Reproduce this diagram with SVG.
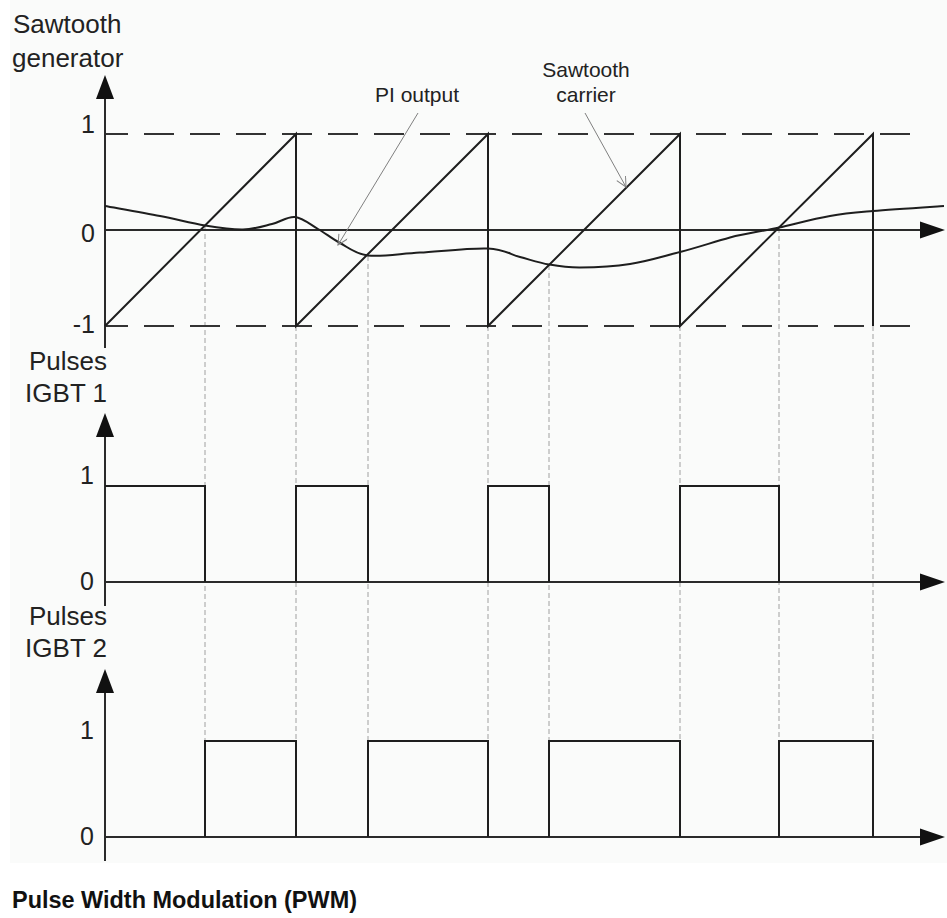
<svg xmlns="http://www.w3.org/2000/svg" width="947" height="918" viewBox="0 0 947 918">
<defs>
<style>
.lbl{font-family:"Liberation Sans",Arial,sans-serif;font-size:26px;fill:#222}
.tick{font-family:"Liberation Sans",Arial,sans-serif;font-size:25px;fill:#222;text-anchor:end}
.ylbl{font-family:"Liberation Sans",Arial,sans-serif;font-size:26px;fill:#222;text-anchor:end}
.ann{font-family:"Liberation Sans",Arial,sans-serif;font-size:21px;fill:#222;text-anchor:middle}
.title{font-family:"Liberation Sans",Arial,sans-serif;font-size:23px;font-weight:bold;fill:#111}
.ax{stroke:#2a2a2a;stroke-width:2;fill:none}
.sig{stroke:#1e1e1e;stroke-width:2;fill:none;stroke-linejoin:miter}
.lvl{stroke:#333;stroke-width:2;fill:none;stroke-dasharray:30 16}
.guide{stroke:#a0a0a0;stroke-width:1;fill:none;stroke-dasharray:5 3}
.lead{stroke:#808080;stroke-width:1;fill:none}
.head{fill:#111}
</style>
<marker id="open" markerUnits="userSpaceOnUse" markerWidth="14" markerHeight="12" refX="11" refY="5" orient="auto">
<path d="M1,0 L11,5 L1,10" fill="none" stroke="#808080" stroke-width="1"/>
</marker>
</defs>
<rect x="10" y="0" width="937" height="863" fill="#fafbfa"/>

<g id="guides">
<line class="guide" x1="205" y1="226" x2="205" y2="741"/>
<line class="guide" x1="296" y1="326" x2="296" y2="741"/>
<line class="guide" x1="368" y1="256" x2="368" y2="741"/>
<line class="guide" x1="488" y1="326" x2="488" y2="741"/>
<line class="guide" x1="549" y1="265" x2="549" y2="741"/>
<line class="guide" x1="680" y1="326" x2="680" y2="741"/>
<line class="guide" x1="779" y1="228" x2="779" y2="741"/>
<line class="guide" x1="873" y1="326" x2="873" y2="741"/>
</g>

<g id="sawtooth-chart">
<line class="lvl" x1="105" y1="134" x2="910" y2="134" stroke-dashoffset="7"/>
<line class="lvl" x1="105" y1="326" x2="910" y2="326" stroke-dashoffset="7"/>
<line class="ax" x1="105" y1="98" x2="105" y2="348"/>
<polygon class="head" points="105,75 96,99 114,99"/>
<line class="ax" x1="105" y1="230" x2="921" y2="230"/>
<polygon class="head" points="945,230 920,221.5 920,238.5"/>
<path class="sig" d="M105,326 L296,134 V326 L488,134 V326 L680,134 V326 L873,134 V326"/>
<path class="sig" d="M105,206 C114.2,207.7 143.3,212.75 160,216 C176.7,219.25 191.2,223.25 205,225.5 C218.8,227.75 231.8,229.75 243,229.5 C254.2,229.25 263.3,226.1 272,224 C280.7,221.9 287.3,216.2 295,217 C302.7,217.8 310.5,224.7 318,229 C325.5,233.3 331.7,238.6 340,243 C348.3,247.4 354.7,253.9 368,255.5 C381.3,257.1 400,253.7 420,252.5 C440,251.3 471.3,247.75 488,248.5 C504.7,249.25 509.8,254.3 520,257 C530.2,259.7 539,262.75 549,264.5 C559,266.25 566.5,267.6 580,267.5 C593.5,267.4 613.3,266.6 630,264 C646.7,261.4 663.3,256.2 680,252 C696.7,247.8 713.5,242 730,237.5 C746.5,233 762.3,231.3 779,227.5 C795.7,223.7 814.3,218.75 830,216 C845.7,213.25 854,212.7 873,211 C892,209.3 932.2,206.8 944,206"/>
<text class="lbl" x="13" y="33">Sawtooth</text>
<text class="lbl" x="12" y="67">generator</text>
<text class="tick" x="95" y="133">1</text>
<text class="tick" x="95" y="242">0</text>
<text class="tick" x="95" y="333">-1</text>
</g>

<g id="annotations">
<text class="ann" x="417" y="102">PI output</text>
<text class="ann" x="586" y="77">Sawtooth</text>
<text class="ann" x="586" y="102">carrier</text>
<line class="lead" x1="418" y1="113" x2="338" y2="245" marker-end="url(#open)"/>
<line class="lead" x1="585" y1="113" x2="626" y2="187" marker-end="url(#open)"/>
</g>

<g id="igbt1-chart">
<line class="ax" x1="105" y1="436" x2="105" y2="606"/>
<polygon class="head" points="105,413 96,437 114,437"/>
<line class="ax" x1="105" y1="582" x2="921" y2="582"/>
<polygon class="head" points="945,582 920,573.5 920,590.5"/>
<path class="sig" d="M105,486 H205 V582 M296,582 V486 H368 V582 M488,582 V486 H549 V582 M680,582 V486 H779 V582"/>
<text class="ylbl" x="107" y="370">Pulses</text>
<text class="ylbl" x="107" y="402">IGBT 1</text>
<text class="tick" x="94" y="484">1</text>
<text class="tick" x="94" y="590">0</text>
</g>

<g id="igbt2-chart">
<line class="ax" x1="105" y1="692" x2="105" y2="861"/>
<polygon class="head" points="105,669 96,693 114,693"/>
<line class="ax" x1="105" y1="837" x2="921" y2="837"/>
<polygon class="head" points="945,837 920,828.5 920,845.5"/>
<path class="sig" d="M205,837 V741 H296 V837 M368,837 V741 H488 V837 M549,837 V741 H680 V837 M779,837 V741 H873 V837"/>
<text class="ylbl" x="107" y="625">Pulses</text>
<text class="ylbl" x="107" y="657">IGBT 2</text>
<text class="tick" x="94" y="739">1</text>
<text class="tick" x="94" y="845">0</text>
</g>

<text class="title" x="12" y="908" textLength="345" lengthAdjust="spacingAndGlyphs">Pulse Width Modulation (PWM)</text>
</svg>
